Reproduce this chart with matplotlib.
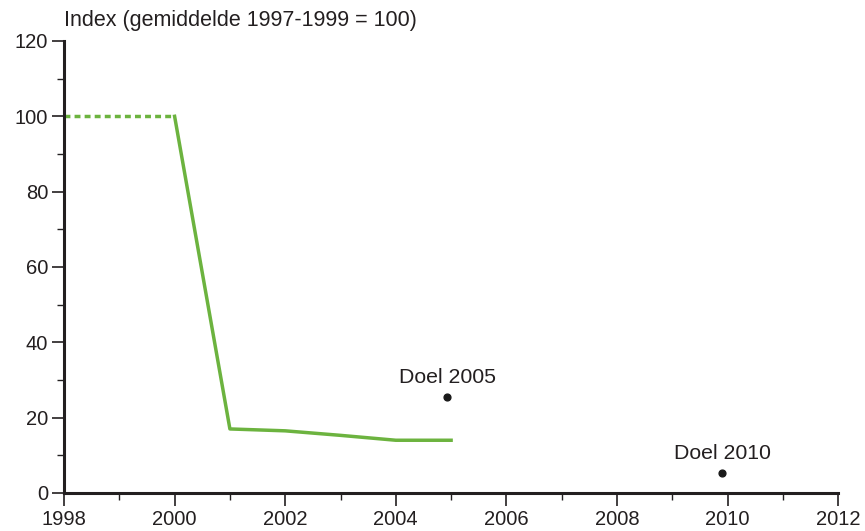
import matplotlib
matplotlib.use("Agg")
import matplotlib.pyplot as plt
from matplotlib.ticker import MultipleLocator

plt.rcParams['font.family'] = ['Liberation Sans', 'DejaVu Sans']

# Data
years_dotted = [1998, 2000]
index_dotted = [100, 100]
years = [2000, 2001, 2002, 2003, 2004, 2005]
index = [100, 17, 16.5, 15.3, 14, 14]
target_labels = ["Doel 2005", "Doel 2010"]
target_years = [2004.93, 2009.9]
target_values = [25.5, 5.3]

green = "#6cb33f"
ink = "#231f20"

fig = plt.figure(figsize=(8.65, 5.31), dpi=100)
ax = fig.add_axes([0.074, 0.0716, 0.895, 0.8512])

ax.plot(years_dotted, index_dotted, color=green, lw=2.5, ls=(0, (1.7, 1.2)),
        solid_capstyle="butt", clip_on=False)
ax.plot(years, index, color=green, lw=2.5, clip_on=False)

ax.scatter(target_years, target_values, color="#1a1a1a", s=24, zorder=3)
for lab, x, y in zip(target_labels, target_years, target_values):
    ax.annotate(lab, (x, y), xytext=(0, 7), textcoords="offset points",
                ha="center", va="bottom", fontsize=15.3, color=ink)

ax.set_xlim(1998, 2012)
ax.set_ylim(0, 120)
ax.xaxis.set_major_locator(MultipleLocator(2))
ax.xaxis.set_minor_locator(MultipleLocator(1))
ax.yaxis.set_major_locator(MultipleLocator(20))
ax.yaxis.set_minor_locator(MultipleLocator(10))

for s in ["top", "right"]:
    ax.spines[s].set_visible(False)
for s in ["left", "bottom"]:
    ax.spines[s].set_linewidth(2.2)
    ax.spines[s].set_color(ink)

ax.tick_params(which="major", length=9, width=1.2, color=ink,
               labelsize=14.5, labelcolor=ink, pad=2.5)
ax.tick_params(which="minor", length=5, width=1.0, color=ink)
ax.tick_params(axis="x", which="major", pad=3)

fig.text(0.074, 0.962, "Index (gemiddelde 1997-1999 = 100)", fontsize=15.5,
         color=ink, va="center", ha="left")

fig.savefig("out.png", dpi=100)
